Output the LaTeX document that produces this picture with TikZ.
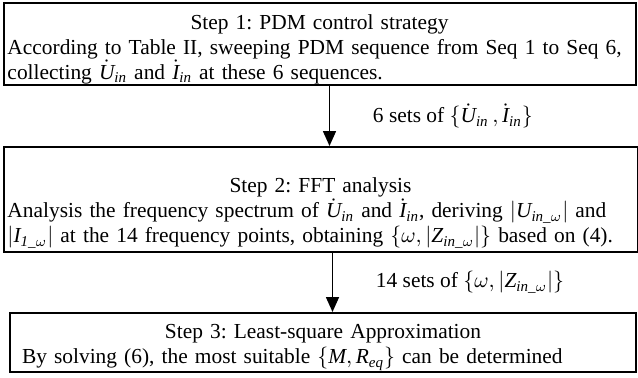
\documentclass[tikz,border=0pt]{standalone}
\usepackage{amsmath}
\usepackage{fontspec}
\setmainfont{Liberation Serif}
\usetikzlibrary{arrows.meta}
\newcommand{\mi}[1]{\mathit{#1}}

\begin{document}
\frenchspacing
\begin{tikzpicture}[x=0.5pt, y=-0.5pt]
 \tikzstyle{every node}=[font=\fontsize{10.7}{12.5}\selectfont]
 \tikzstyle{stepbox}=[draw, line width=1pt, inner xsep=2pt, inner ysep=0pt, align=left]
 \tikzstyle{flow}=[line width=0.8pt, -{Triangle[length=7.5pt, width=6.5pt]}]
 \useasboundingbox (0,0) rectangle (638,377);

 \node[stepbox, text width=312pt, minimum height=41pt] (s1) at (319.5,44)
  {\makebox[\linewidth]{\rule{0pt}{12.5pt}Step 1: PDM control strategy}\\
   \makebox[\linewidth][s]{According to Table II, sweeping PDM sequence from Seq 1 to Seq 6,}\\
   collecting $\dot{\mi{U}}_{\mi{in}}$ and $\dot{\mi{I}}_{\mi{in}}$ at these 6 sequences.};
 \node[stepbox, text width=313pt, minimum height=52.5pt] (s2) at (320.5,199.5)
  {\makebox[\linewidth]{\rule{0pt}{21pt}Step 2: FFT analysis}\\
   \makebox[\linewidth][s]{Analysis the frequency spectrum of $\dot{\mi{U}}_{\mi{in}}$ and $\dot{\mi{I}}_{\mi{in}}$, deriving $|\mi{U}_{\mi{in\_}\omega}|$ and}\\
   $|\mi{I}_{\mi{1\_}\omega}|$ at the 14 frequency points, obtaining $\{\omega, |\mi{Z}_{\mi{in\_}\omega}|\}$ based on (4).};
 \node[stepbox, text width=309pt, minimum height=29.5pt] (s3) at (323,342.5)
  {\makebox[\linewidth]{\rule{0pt}{12pt}Step 3: Least-square Approximation}\\
   \hspace*{4pt}By solving (6), the most suitable $\{\mi{M}, \mi{R}_{\mi{eq}}\}$ can be determined};

 \draw[flow] ([xshift=5pt]s1.south) -- ([xshift=5pt]s1.south |- s2.north)
  node[midway, right=18pt] {6 sets of $\{\dot{\mi{U}}_{\mi{in}}\,, \dot{\mi{I}}_{\mi{in}}\}$};
 \draw[flow] ([xshift=6pt]s2.south) -- ([xshift=6pt]s2.south |- s3.north)
  node[midway, right=18pt] {14 sets of $\{\omega, |\mi{Z}_{\mi{in\_}\omega}|\}$};
\end{tikzpicture}
\end{document}
